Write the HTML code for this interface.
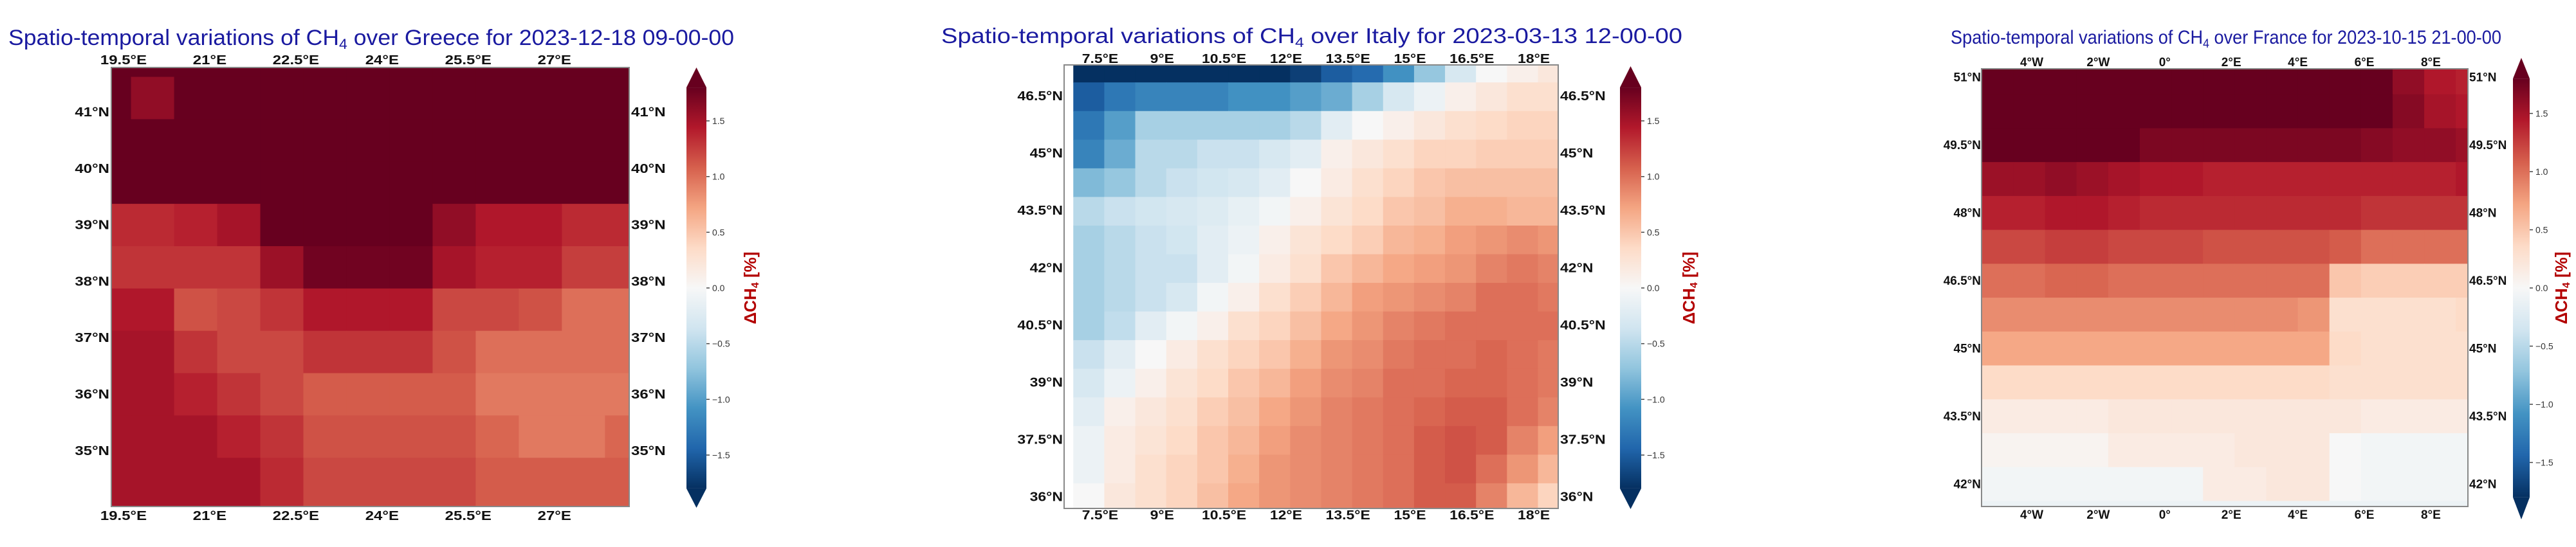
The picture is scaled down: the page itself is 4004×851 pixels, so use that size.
<!DOCTYPE html>
<html><head><meta charset="utf-8">
<style>
html,body{margin:0;padding:0;background:#fff;}
svg{display:block;}
text{font-family:"Liberation Sans",sans-serif;}
</style></head>
<body>
<svg id="fig" width="4004" height="851" viewBox="0 0 4004 851" xmlns="http://www.w3.org/2000/svg">
<defs>
<linearGradient id="cmap" x1="0" y1="1" x2="0" y2="0">
<stop offset="0" stop-color="#053061"/><stop offset="0.1" stop-color="#2166ac"/><stop offset="0.2" stop-color="#4393c3"/><stop offset="0.3" stop-color="#92c5de"/><stop offset="0.4" stop-color="#d1e5f0"/><stop offset="0.5" stop-color="#f7f7f7"/><stop offset="0.6" stop-color="#fddbc7"/><stop offset="0.7" stop-color="#f4a582"/><stop offset="0.8" stop-color="#d6604d"/><stop offset="0.9" stop-color="#b2182b"/><stop offset="1" stop-color="#67001f"/>
</linearGradient>
</defs>
</svg>
<script>
// ---- data ----
const greeceLonTicks=[19.5,21,22.5,24,25.5,27];
const greeceLatTicks=[35,36,37,38,39,40,41];
const greeceValues=[
[1.9,1.9,1.9,1.9,1.9,1.9,1.9,1.9,1.9,1.9,1.9,1.9,1.9],
[1.9,1.6,1.9,1.9,1.9,1.9,1.9,1.9,1.9,1.9,1.9,1.9,1.9],
[1.9,1.9,1.9,1.9,1.9,1.9,1.9,1.9,1.9,1.9,1.9,1.9,1.9],
[1.85,1.85,1.9,1.9,1.9,1.9,1.9,1.9,1.9,1.9,1.9,1.9,1.9],
[1.35,1.35,1.4,1.5,1.8,1.8,1.8,1.8,1.6,1.45,1.45,1.35,1.35],
[1.3,1.3,1.3,1.3,1.55,1.75,1.75,1.75,1.5,1.4,1.4,1.25,1.25],
[1.45,1.45,1.15,1.2,1.3,1.45,1.45,1.45,1.2,1.2,1.15,1.0,1.0],
[1.5,1.5,1.3,1.2,1.2,1.3,1.3,1.3,1.15,1.0,1.0,1.0,1.0],
[1.5,1.5,1.4,1.3,1.2,1.1,1.1,1.1,1.1,0.95,0.95,0.95,0.95],
[1.5,1.5,1.5,1.4,1.3,1.15,1.15,1.15,1.15,1.05,0.95,0.95,1.05],
[1.5,1.5,1.5,1.5,1.35,1.2,1.2,1.2,1.2,1.1,1.1,1.1,1.1],
[1.5,1.5,1.5,1.5,1.35,1.2,1.2,1.2,1.2,1.1,1.1,1.1,1.1]];
const italyLonTicks=[7.5,9,10.5,12,13.5,15,16.5,18];
const italyLatTicks=[36,37.5,39,40.5,42,43.5,45,46.5];
const italyValues=[
[-1.8,-1.8,-1.8,-1.8,-1.8,-1.8,-1.8,-1.7,-1.5,-1.4,-1.1,-0.7,-0.3,0.0,0.1,0.2],
[-1.5,-1.3,-1.2,-1.2,-1.2,-1.1,-1.1,-1.0,-0.9,-0.6,-0.3,-0.1,0.1,0.2,0.3,0.3],
[-1.3,-1.0,-0.6,-0.6,-0.6,-0.6,-0.6,-0.5,-0.2,0.0,0.1,0.2,0.3,0.35,0.4,0.4],
[-1.2,-0.9,-0.5,-0.5,-0.4,-0.4,-0.3,-0.2,0.1,0.2,0.3,0.4,0.4,0.45,0.45,0.45],
[-0.8,-0.7,-0.5,-0.4,-0.35,-0.3,-0.2,0.0,0.15,0.3,0.4,0.5,0.55,0.55,0.55,0.55],
[-0.5,-0.4,-0.35,-0.3,-0.25,-0.15,-0.05,0.1,0.25,0.35,0.5,0.55,0.65,0.65,0.6,0.6],
[-0.6,-0.5,-0.4,-0.35,-0.2,-0.1,0.1,0.25,0.35,0.45,0.6,0.65,0.75,0.8,0.85,0.8],
[-0.6,-0.5,-0.4,-0.4,-0.2,-0.05,0.15,0.3,0.5,0.6,0.7,0.75,0.8,0.9,0.95,0.9],
[-0.6,-0.5,-0.4,-0.3,-0.05,0.1,0.3,0.45,0.6,0.75,0.8,0.85,0.9,1.0,1.0,0.95],
[-0.6,-0.45,-0.2,-0.05,0.1,0.3,0.4,0.55,0.7,0.8,0.9,0.95,1.0,1.0,1.0,1.0],
[-0.4,-0.2,0.0,0.15,0.3,0.4,0.5,0.65,0.8,0.85,0.95,1.0,1.0,1.05,1.0,0.95],
[-0.3,-0.1,0.1,0.25,0.35,0.5,0.6,0.75,0.85,0.9,1.0,1.0,1.05,1.05,1.0,0.95],
[-0.2,0.1,0.2,0.3,0.45,0.55,0.7,0.8,0.9,0.95,1.0,1.05,1.1,1.1,1.0,0.9],
[-0.1,0.15,0.25,0.35,0.5,0.6,0.75,0.85,0.9,0.95,1.0,1.1,1.15,1.1,0.9,0.75],
[-0.1,0.15,0.3,0.4,0.5,0.65,0.8,0.85,0.9,0.95,1.0,1.1,1.15,1.0,0.8,0.6],
[0.0,0.2,0.3,0.4,0.55,0.7,0.8,0.85,0.9,0.95,1.0,1.1,1.1,0.9,0.6,0.4]];
const franceLonTicks=[-4,-2,0,2,4,6,8];
const franceLatTicks=[42,43.5,45,46.5,48,49.5,51];
const franceValues=[
[1.9,1.9,1.9,1.9,1.9,1.9,1.9,1.9,1.9,1.85,1.85,1.8,1.8,1.6,1.45,1.4],
[1.9,1.9,1.9,1.9,1.9,1.9,1.9,1.9,1.9,1.85,1.85,1.8,1.8,1.65,1.5,1.45],
[1.9,1.9,1.9,1.85,1.8,1.7,1.7,1.7,1.7,1.7,1.7,1.7,1.65,1.6,1.6,1.55],
[1.55,1.55,1.6,1.55,1.5,1.45,1.45,1.4,1.4,1.4,1.4,1.4,1.4,1.4,1.4,1.45],
[1.4,1.4,1.45,1.45,1.4,1.35,1.35,1.35,1.35,1.35,1.35,1.35,1.3,1.3,1.3,1.3],
[1.2,1.2,1.25,1.25,1.2,1.2,1.2,1.15,1.15,1.15,1.15,1.1,1.0,1.0,1.0,1.0],
[1.0,1.0,1.05,1.05,1.0,1.0,1.0,1.0,1.0,1.0,1.0,0.5,0.45,0.45,0.45,0.45],
[0.85,0.85,0.85,0.85,0.85,0.85,0.85,0.85,0.85,0.85,0.8,0.3,0.3,0.3,0.3,0.35],
[0.7,0.7,0.7,0.7,0.7,0.7,0.7,0.7,0.7,0.7,0.7,0.35,0.3,0.3,0.3,0.3],
[0.35,0.35,0.35,0.35,0.35,0.35,0.35,0.35,0.35,0.35,0.35,0.3,0.3,0.3,0.3,0.3],
[0.15,0.15,0.15,0.15,0.2,0.2,0.2,0.2,0.2,0.2,0.2,0.2,0.15,0.15,0.15,0.15],
[0.05,0.05,0.05,0.05,0.15,0.15,0.15,0.15,0.2,0.2,0.2,0.0,-0.05,-0.05,-0.05,-0.05],
[-0.05,-0.05,-0.05,-0.05,-0.05,-0.05,-0.05,0.15,0.15,0.2,0.2,0.0,-0.05,-0.05,-0.05,-0.05],
[-0.1,-0.1,-0.1,-0.1,-0.1,-0.1,-0.1,-0.1,-0.1,-0.1,-0.1,-0.1,-0.1,-0.1,-0.1,-0.1]];
const cbarTicks=[-1.5,-1.0,-0.5,0.0,0.5,1.0,1.5];

// ---- rendering ----
const NS="http://www.w3.org/2000/svg";
const svg=document.getElementById('fig');
const STOPS=["#053061","#2166ac","#4393c3","#92c5de","#d1e5f0","#f7f7f7","#fddbc7","#f4a582","#d6604d","#b2182b","#67001f"];
function hex(c){return [parseInt(c.slice(1,3),16),parseInt(c.slice(3,5),16),parseInt(c.slice(5,7),16)];}
function cmap(v){let t=(v+1.8)/3.6;t=Math.max(0,Math.min(1,t));const p=t*10;const i=Math.min(9,Math.floor(p));const f=p-i;const a=hex(STOPS[i]),b=hex(STOPS[i+1]);return 'rgb('+a.map((x,k)=>Math.round(x+(b[k]-x)*f)).join(',')+')';}
function el(tag,attrs,parent){const e=document.createElementNS(NS,tag);for(const k in attrs)e.setAttribute(k,attrs[k]);(parent||svg).appendChild(e);return e;}
function lonLabel(v){if(v===0)return '0°';return (Math.abs(v))+'°'+(v<0?'W':'E');}
function latLabel(v){return v+'°N';}

function panel(cfg,values,lonTicks,latTicks){
  const g=el('g',{});
  
  
  const xs=lon=>cfg.x0+(lon-cfg.lonRef)*cfg.pxLon;
  const ys=lat=>cfg.y0+(cfg.latRef-lat)*cfg.pxLat;
  const t=el('text',{x:cfg.titleX,y:cfg.titleY,'font-size':cfg.titleSize,fill:'#1a1aa0',textLength:cfg.titleW,lengthAdjust:'spacingAndGlyphs'},g);
  
  
  t.appendChild(document.createTextNode('Spatio-temporal variations of CH'));
  const sub=el('tspan',{'font-size':cfg.titleSize*0.65,dy:6},t);sub.textContent='4';
  const rest=el('tspan',{dy:-6},t);rest.textContent=' over '+cfg.country+' for '+cfg.date;
  const clipId='clip-'+cfg.key;
  const cp=el('clipPath',{id:clipId},g);
  el('rect',{x:cfg.mx0,y:cfg.my0,width:cfg.mx1-cfg.mx0,height:cfg.my1-cfg.my0},cp);
  const mg=el('g',{'clip-path':'url(#'+clipId+')'},g);
  
  
  values.forEach((row,r)=>{
    row.forEach((v,c)=>{
      const lonA=cfg.lon0+c*cfg.dlon, lonB=lonA+cfg.dlon;
      const latA=cfg.lat0-r*cfg.dlat, latB=latA-cfg.dlat;
      const x1=xs(lonA),x2=xs(lonB),y1=ys(latA),y2=ys(latB);
      const last=c===row.length-1, lastR=r===values.length-1;
      const cell=el('rect',{x:x1,y:y1,width:(last?cfg.mx1+50:x2)-x1+0.6,height:(lastR?cfg.my1+50:y2)-y1+0.6,fill:cmap(v)},mg);
      
      
    });
  });
  const fr=el('rect',{x:cfg.mx0,y:cfg.my0,width:cfg.mx1-cfg.mx0,height:cfg.my1-cfg.my0,fill:'none',stroke:'#888',"stroke-width":2},g);
  
  
  lonTicks.forEach(v=>{
    [cfg.topY,cfg.botY].forEach((yy,k)=>{
      const tx=el('text',{'font-size':cfg.tickSize,'font-weight':'bold',fill:'#111','text-anchor':'middle',transform:'translate('+xs(v)+','+yy+') scale('+cfg.sx+',1)'},g);
      
      
      tx.textContent=lonLabel(v);
    });
  });
  latTicks.forEach(v=>{
    const yy=ys(v)+cfg.tickSize*0.35;
    const l=el('text',{'font-size':cfg.tickSize,'font-weight':'bold',fill:'#111','text-anchor':'end',transform:'translate('+cfg.leftX+','+yy+') scale('+cfg.sx+',1)'},g);
    
    
    l.textContent=latLabel(v);
    const r=el('text',{'font-size':cfg.tickSize,'font-weight':'bold',fill:'#111','text-anchor':'start',transform:'translate('+cfg.rightX+','+yy+') scale('+cfg.sx+',1)'},g);
    
    
    r.textContent=latLabel(v);
  });
  const cb=el('g',{},g);
  
  
  const cy=v=>cfg.cb0-v*cfg.cbUnit;
  const top=cy(1.8),bot=cy(-1.8);
  el('rect',{x:cfg.cbx,y:top,width:cfg.cbw,height:bot-top,fill:'url(#cmap)'},cb);
  el('polygon',{points:cfg.cbx+','+top+' '+(cfg.cbx+cfg.cbw)+','+top+' '+(cfg.cbx+cfg.cbw/2)+','+cfg.cbTip0,fill:'#67001f'},cb);
  el('polygon',{points:cfg.cbx+','+bot+' '+(cfg.cbx+cfg.cbw)+','+bot+' '+(cfg.cbx+cfg.cbw/2)+','+cfg.cbTip1,fill:'#053061'},cb);
  cbarTicks.forEach(v=>{
    el('line',{x1:cfg.cbx+cfg.cbw,x2:cfg.cbx+cfg.cbw+5,y1:cy(v),y2:cy(v),stroke:'#444','stroke-width':1.5},cb);
    const lt=el('text',{x:cfg.cbx+cfg.cbw+9,y:cy(v)+5,'font-size':14,fill:'#333'},cb);
    
    
    lt.textContent=(v<0?'\u2212':'')+Math.abs(v).toFixed(1);
  });
  const lab=el('text',{'font-size':26,'font-weight':'bold',fill:'#b30000','text-anchor':'middle',transform:'translate('+cfg.labX+','+cfg.cb0+') rotate(-90)'},g);
  
  
  lab.appendChild(document.createTextNode('\u0394CH'));
  const s2=el('tspan',{'font-size':16,dy:4},lab);s2.textContent='4';
  const s3=el('tspan',{dy:-4},lab);s3.textContent=' [%]';
}

panel({key:'greece',country:'Greece',date:'2023-12-18 09-00-00',titleX:13,titleY:70,titleSize:34,titleW:1128,
  x0:192,lonRef:19.5,pxLon:89.3,y0:174,latRef:41,pxLat:87.8,
  lon0:18.88,dlon:0.75,lat0:42.37,dlat:0.75,mx0:173,mx1:978,my0:105,my1:788,
  topY:100,botY:809,tickSize:20,sx:1.2,leftX:170,rightX:981,
  cbx:1067,cbw:31,cb0:448,cbUnit:173.3,cbTip0:105,cbTip1:790,labX:1175},greeceValues,greeceLonTicks,greeceLatTicks);
panel({key:'italy',country:'Italy',date:'2023-03-13 12-00-00',titleX:1463,titleY:67,titleSize:33,titleW:1152,
  x0:1710,lonRef:7.5,pxLon:64.2,y0:149,latRef:46.5,pxLat:59.4,
  lon0:6.85,dlon:0.75,lat0:47.6,dlat:0.75,mx0:1654,mx1:2422,my0:101,my1:791,
  topY:98,botY:808,tickSize:20,sx:1.15,leftX:1652,rightX:2425,
  cbx:2518,cbw:33,cb0:448,cbUnit:173.3,cbTip0:103,cbTip1:792,labX:2634},italyValues,italyLonTicks,italyLatTicks);
panel({key:'france',country:'France',date:'2023-10-15 21-00-00',titleX:3032,titleY:68,titleSize:30,titleW:856,
  x0:3158,lonRef:-4,pxLon:51.7,y0:120,latRef:51,pxLat:70.3,
  lon0:-5.5,dlon:0.95,lat0:51.37,dlat:0.75,mx0:3080,mx1:3836,my0:107,my1:788,
  topY:103,botY:807,tickSize:19,sx:1.0,leftX:3079,rightX:3838,
  cbx:3906,cbw:26,cb0:448,cbUnit:181,cbTip0:90,cbTip1:808,labX:3990},franceValues,franceLonTicks,franceLatTicks);
</script>
</body></html>
